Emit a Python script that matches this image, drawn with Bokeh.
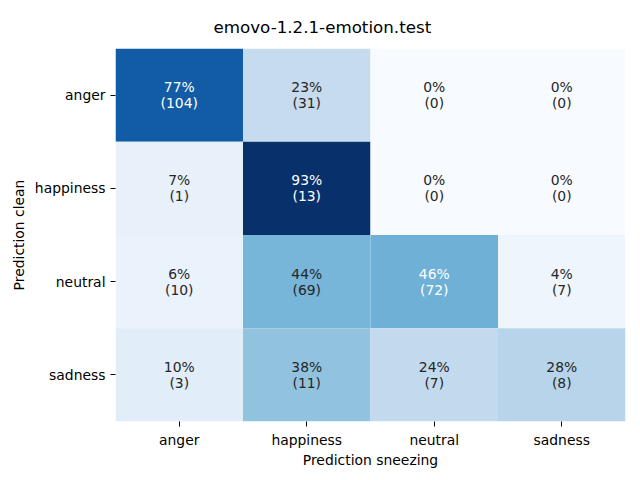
from bokeh.plotting import figure
from bokeh.models import ColumnDataSource, LinearColorMapper, FactorRange
from bokeh.palettes import Blues256
from bokeh.embed import file_html
from bokeh.resources import INLINE
from bokeh.core.properties import value

# data
true_classes = ["anger", "happiness", "neutral", "sadness"]      # rows (Prediction clean)
pred_classes = ["anger", "happiness", "neutral", "sadness"]      # columns (Prediction sneezing)
counts_anger = [104, 31, 0, 0]
counts_happiness = [1, 13, 0, 0]
counts_neutral = [10, 69, 72, 7]
counts_sadness = [3, 11, 7, 8]
title_text = "emovo-1.2.1-emotion.test"
x_label = "Prediction sneezing"
y_label = "Prediction clean"

rows = [counts_anger, counts_happiness, counts_neutral, counts_sadness]

pal = list(Blues256)
if pal[0].lower() == "#08306b":
    pal = pal[::-1]

xs, ys, fracs, labels = [], [], [], []
for r, row in zip(true_classes, rows):
    tot = sum(row)
    for c, n in zip(pred_classes, row):
        f = n / tot
        xs.append(c)
        ys.append(r)
        fracs.append(f)
        labels.append(f"{round(f * 100):.0f}%\n({n})")

lo, hi = min(fracs), max(fracs)


def lum(hexc):
    rgb = [int(hexc[i:i + 2], 16) / 255 for i in (1, 3, 5)]
    rgb = [v / 12.92 if v <= 0.03928 else ((v + 0.055) / 1.055) ** 2.4 for v in rgb]
    return 0.2126 * rgb[0] + 0.7152 * rgb[1] + 0.0722 * rgb[2]


tcolors = []
for f in fracs:
    idx = min(int((f - lo) / (hi - lo) * len(pal)), len(pal) - 1)
    tcolors.append("#262626" if lum(pal[idx]) > 0.408 else "#ffffff")

src = ColumnDataSource(dict(x=xs, y=ys, f=fracs, label=labels, tc=tcolors))
mapper = LinearColorMapper(palette=pal, low=lo, high=hi)

p = figure(width=640, height=480, output_backend="svg", toolbar_location=None,
           x_range=FactorRange(*pred_classes),
           y_range=FactorRange(*reversed(true_classes)),
           min_border_left=115, min_border_right=15, min_border_top=48, min_border_bottom=59)

p.rect(x="x", y="y", width=1, height=1, source=src,
       fill_color={"field": "f", "transform": mapper}, line_color=None)

p.text(x="x", y="y", text="label", source=src, text_align="center", text_baseline="middle",
       text_font=value("DejaVu Sans"), text_font_size="13.9px", text_color="tc",
       text_line_height=1.0)

p.title.text = title_text
p.title.align = "left"
p.title.offset = 98
p.title.vertical_align = "top"
p.title.standoff = 20
p.title.text_font = "DejaVu Sans"
p.title.text_font_size = "16.7px"
p.title.text_font_style = "normal"
p.title.text_color = "#000000"

for ax in (p.xaxis[0], p.yaxis[0]):
    ax.axis_line_color = None
    ax.major_tick_line_color = "#000000"
    ax.major_tick_out = 5
    ax.major_tick_in = 0
    ax.minor_tick_line_color = None
    ax.major_label_text_font = "DejaVu Sans"
    ax.major_label_text_font_size = "13.9px"
    ax.major_label_text_color = "#000000"
    ax.major_label_standoff = 5
    ax.axis_label_text_font = "DejaVu Sans"
    ax.axis_label_text_font_size = "13.9px"
    ax.axis_label_text_font_style = "normal"
    ax.axis_label_text_color = "#000000"
    ax.axis_label_standoff = 5

p.xaxis.axis_label = x_label
p.xaxis.axis_label_standoff = 1
p.yaxis.axis_label = y_label
p.xgrid.grid_line_color = None
p.ygrid.grid_line_color = None
p.outline_line_color = None
p.background_fill_color = "#ffffff"
p.border_fill_color = "#ffffff"

open("out.html", "w").write(file_html(p, INLINE))
